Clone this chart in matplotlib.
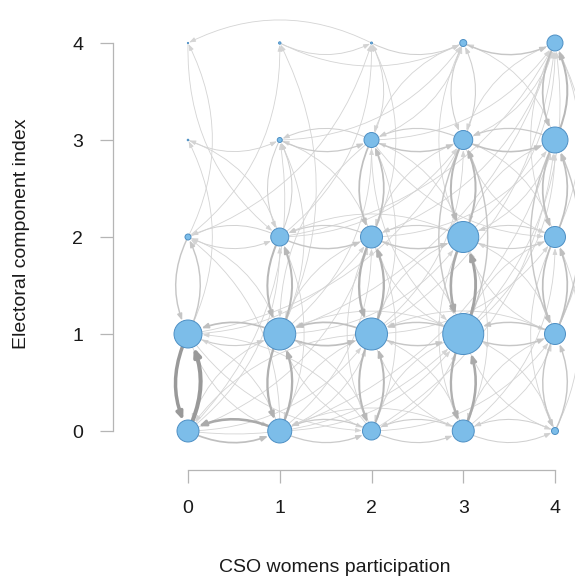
import matplotlib
matplotlib.use("Agg")
import matplotlib.pyplot as plt
from matplotlib.patches import FancyArrowPatch

plt.rcParams['font.family'] = ['Liberation Sans', 'DejaVu Sans']

# grid of states: CSO womens participation (x) vs electoral component index (y)
node_x = [0, 0, 0, 0, 0, 1, 1, 1, 1, 1, 2, 2, 2, 2, 2, 3, 3, 3, 3, 3, 4, 4, 4, 4, 4]
node_y = [0, 1, 2, 3, 4, 0, 1, 2, 3, 4, 0, 1, 2, 3, 4, 0, 1, 2, 3, 4, 0, 1, 2, 3, 4]
# node radius (pixels)
node_r = [11, 14, 3, 0.8, 0.6,
          12, 16, 9, 2.5, 1.2,
          9, 16, 11, 7.5, 1,
          11, 20.5, 15.5, 9.5, 3.5,
          3.5, 10.5, 10.5, 13, 8]

# transitions: from (x, y) to (x, y) with weight
edge_from = [
    # vertical neighbours
    (0, 0), (0, 1), (0, 1), (0, 2),
    (1, 0), (1, 1), (1, 1), (1, 2), (1, 2), (1, 3),
    (2, 0), (2, 1), (2, 1), (2, 2), (2, 2), (2, 3), (2, 3),
    (3, 0), (3, 1), (3, 1), (3, 2), (3, 2), (3, 3), (3, 3), (3, 4), (3, 1), (3, 3),
    (4, 0), (4, 1), (4, 1), (4, 2), (4, 2), (4, 3), (4, 3), (4, 4), (4, 1), (4, 3),
    # horizontal neighbours
    (1, 0), (0, 0), (1, 0), (2, 0), (2, 0), (3, 0), (3, 0), (4, 0),
    (1, 1), (0, 1), (1, 1), (2, 1), (2, 1), (3, 1), (3, 1), (4, 1),
    (1, 2), (2, 2), (2, 2), (3, 2), (3, 2), (4, 2), (0, 2), (1, 2),
    (1, 3), (2, 3), (2, 3), (3, 3), (3, 3), (4, 3), (0, 3),
    (3, 4), (2, 4), (1, 4),
    # longer jumps
    (0, 0), (0, 0), (0, 0), (0, 0), (0, 1), (0, 1), (0, 1), (0, 2), (0, 1), (0, 2),
    (1, 0), (1, 0), (1, 0), (1, 0), (1, 0), (1, 0),
    (1, 1), (1, 1), (1, 1), (1, 1), (1, 1), (1, 1), (1, 1),
    (1, 2), (1, 2), (1, 2), (1, 2), (1, 3), (0, 4),
    (2, 0), (2, 0), (2, 0), (2, 0), (2, 0),
    (2, 1), (2, 1), (2, 1), (2, 1), (2, 1), (2, 1), (2, 1),
    (2, 2), (2, 2), (2, 2), (2, 2), (2, 2), (2, 2), (2, 2),
    (2, 3), (2, 3), (2, 3), (2, 3), (2, 3),
    (3, 0), (3, 0), (3, 0), (3, 0), (3, 0),
    (3, 1), (3, 1), (3, 1), (3, 1), (3, 1), (3, 1),
    (3, 2), (3, 2), (3, 2), (3, 2), (3, 2), (3, 2), (3, 2),
    (3, 3), (3, 3), (3, 3), (3, 4), (3, 4),
    (4, 0), (4, 0), (4, 1), (4, 1), (4, 1), (4, 1),
    (4, 2), (4, 2), (4, 2), (4, 2), (4, 3), (4, 3), (4, 4), (4, 4),
    (1, 4), (2, 4), (0, 2), (0, 0), (1, 0), (2, 0), (1, 1), (0, 1),
]
edge_to = [
    (0, 1), (0, 0), (0, 2), (0, 1),
    (1, 1), (1, 0), (1, 2), (1, 1), (1, 3), (1, 2),
    (2, 1), (2, 0), (2, 2), (2, 1), (2, 3), (2, 2), (2, 4),
    (3, 1), (3, 0), (3, 2), (3, 1), (3, 3), (3, 2), (3, 4), (3, 3), (3, 3), (3, 1),
    (4, 1), (4, 0), (4, 2), (4, 1), (4, 3), (4, 2), (4, 4), (4, 3), (4, 3), (4, 1),
    (0, 0), (1, 0), (2, 0), (1, 0), (3, 0), (2, 0), (4, 0), (3, 0),
    (0, 1), (1, 1), (2, 1), (1, 1), (3, 1), (2, 1), (4, 1), (3, 1),
    (2, 2), (1, 2), (3, 2), (2, 2), (4, 2), (3, 2), (1, 2), (0, 2),
    (2, 3), (1, 3), (3, 3), (2, 3), (4, 3), (3, 3), (1, 3),
    (4, 4), (3, 4), (2, 4),
    (2, 1), (1, 2), (3, 1), (2, 2), (1, 0), (2, 0), (0, 3), (0, 4), (2, 2), (1, 4),
    (0, 2), (2, 2), (3, 1), (1, 2), (2, 1), (0, 1),
    (0, 0), (2, 0), (1, 3), (3, 2), (2, 3), (0, 2), (1, 4),
    (2, 4), (3, 3), (4, 4), (0, 3), (3, 4), (1, 2),
    (1, 1), (3, 1), (2, 2), (4, 1), (0, 1),
    (1, 0), (3, 0), (2, 3), (4, 2), (3, 3), (0, 0), (4, 4),
    (1, 1), (3, 1), (2, 4), (4, 3), (4, 4), (2, 0), (1, 3),
    (1, 1), (4, 4), (3, 1), (3, 4), (4, 2),
    (2, 1), (4, 1), (3, 2), (1, 0), (4, 2),
    (2, 0), (4, 0), (2, 2), (4, 3), (4, 4), (1, 1),
    (2, 1), (4, 1), (4, 3), (4, 4), (2, 3), (3, 0), (1, 2),
    (4, 4), (2, 2), (4, 2), (2, 3), (3, 2),
    (3, 1), (4, 2), (3, 0), (3, 2), (4, 4), (2, 1),
    (3, 1), (4, 4), (3, 3), (4, 0), (3, 2), (3, 4), (3, 3), (4, 2),
    (3, 4), (0, 4), (2, 4), (1, 3), (4, 3), (4, 3), (4, 4), (3, 3),
]
edge_w = [
    6, 5, 1.5, 1.5,
    3, 3, 2.5, 2.5, 0.8, 0.8,
    2.5, 2.5, 3, 3, 2, 2, 0.6,
    3.5, 3, 4, 3.5, 2.5, 2.5, 0.9, 0.9, 1.5, 1.5,
    1.5, 1.5, 2, 2, 2, 2, 2.5, 2,  1.5, 1.5,
    3.5, 2, 1.2, 1.2, 1, 1, 0.8, 0.8,
    2, 1, 2, 2, 1.5, 1.5, 1.5, 1.5,
    1.5, 1, 1.5, 1, 1, 0.8, 0.7, 0.7,
    1.2, 0.8, 1.5, 1, 1.8, 1.2, 0.6,
    1.5, 0.8, 0.6,
    0.5, 0.5, 0.5, 0.5, 0.5, 0.5, 0.5, 0.5, 0.5, 0.5,
    0.5, 0.5, 0.5, 0.5, 0.5, 0.5,
    0.5, 0.5, 0.5, 0.5, 0.5, 0.5, 0.5,
    0.5, 0.5, 0.5, 0.5, 0.5, 0.5,
    0.5, 0.5, 0.5, 0.5, 0.5,
    0.5, 0.5, 0.5, 0.5, 0.5, 0.5, 0.5,
    0.5, 0.5, 0.5, 0.5, 0.5, 0.5, 0.5,
    0.5, 0.5, 0.5, 0.5, 0.5,
    0.5, 0.5, 0.5, 0.5, 0.5,
    0.5, 0.5, 0.5, 0.5, 0.5, 0.5,
    0.5, 0.5, 0.5, 0.5, 0.5, 0.5, 0.5,
    0.5, 0.5, 0.5, 0.5, 0.5,
    0.5, 0.5, 0.5, 0.5, 0.5, 0.5,
    0.5, 0.5, 0.5, 0.5, 0.5, 0.5, 0.5, 0.5,
    0.5, 0.5, 0.5, 0.5, 0.5, 0.5, 0.5, 0.5,
]

tick_vals = [0, 1, 2, 3, 4]

W, H = 579, 586
fig = plt.figure(figsize=(W / 100, H / 100), dpi=100)
ax = fig.add_axes([113 / W, 1 - 470 / H, (575 - 113) / W, (470 - 5) / H])
ax.set_xlim(-(188 - 113) / 91.75, (575 - 188) / 91.75)
ax.set_ylim(-(470 - 431) / 97, (431 - 5) / 97)

radius = {(x, y): r for x, y, r in zip(node_x, node_y, node_r)}
px2pt = 72 / 100

# light edges first, heavy ones on top
order = sorted(range(len(edge_w)), key=lambda i: edge_w[i])
for i in order:
    a, b, w = edge_from[i], edge_to[i], edge_w[i]
    grey = max(0.6, 0.86 - 0.055 * w)
    col = (grey, grey, grey)
    lw = 0.4 + 0.42 * w
    style = "-|>,head_length=%.2f,head_width=%.2f" % (3.6 + 0.15 * w, 1.3 + 0.1 * w)
    arr = FancyArrowPatch(a, b, connectionstyle="arc3,rad=0.25",
                          arrowstyle=style,
                          shrinkA=radius[a] * px2pt, shrinkB=radius[b] * px2pt + 0.5,
                          color=col, lw=lw, mutation_scale=1, zorder=1 + w / 10)
    ax.add_patch(arr)

sizes = [(2 * r * px2pt) ** 2 for r in node_r]
ax.scatter(node_x, node_y, s=sizes, c="#7cbde9", edgecolors="#4d8fc4",
           linewidths=0.7, zorder=5)

for side in ["top", "right"]:
    ax.spines[side].set_visible(False)
for side in ["left", "bottom"]:
    ax.spines[side].set_bounds(0, 4)
    ax.spines[side].set_color("#b5b5b5")
    ax.spines[side].set_linewidth(0.9)

ax.set_xticks(tick_vals)
ax.set_yticks(tick_vals)
ax.tick_params(axis="both", direction="out", length=9.4, width=0.9,
               color="#b5b5b5", labelsize=14, labelcolor="#1a1a1a")
ax.tick_params(axis="x", pad=12)
ax.tick_params(axis="y", pad=12)
ax.patch.set_alpha(0)

fig.text(335 / W, 1 - 567 / H, "CSO womens participation", ha="center",
         va="center", fontsize=14, color="#1a1a1a")
fig.text(22 / W, 1 - 234 / H, "Electoral component index", ha="center",
         va="center", rotation=90, fontsize=14, color="#1a1a1a")

fig.savefig("out.png", dpi=100)
